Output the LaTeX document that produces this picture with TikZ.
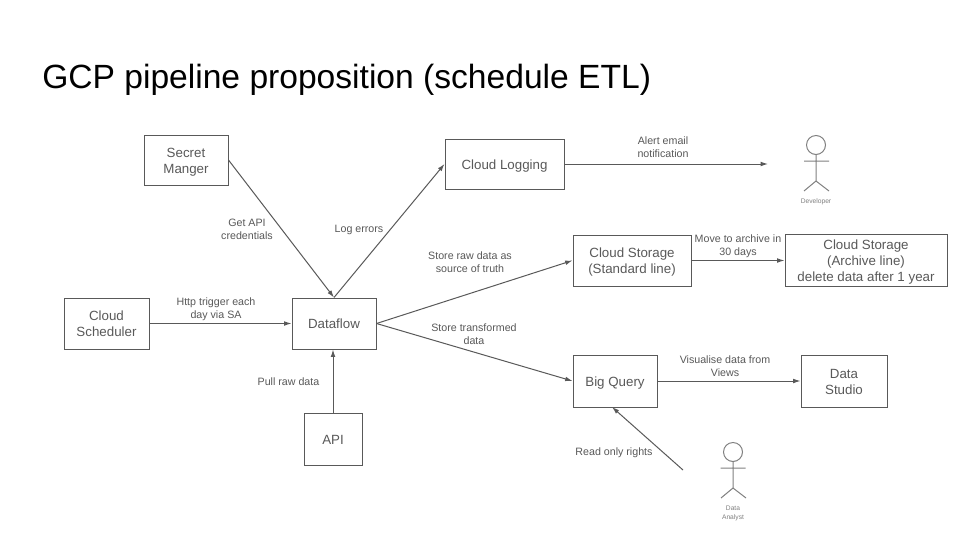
\documentclass[tikz,border=0pt]{standalone}
\usepackage{fontspec}
\setmainfont{Liberation Sans}
\usetikzlibrary{arrows.meta}
\definecolor{ink}{HTML}{595959}
\definecolor{actor}{HTML}{808080}
\tikzset{
  x=0.75pt,y=-0.75pt,
  box/.style={draw=ink,line width=0.75pt,text=ink,align=center,inner sep=0pt,font=\fontsize{10}{12}\selectfont},
  conn/.style={draw=ink,line width=0.75pt,-{Latex[length=5.5pt,width=3.5pt]}},
  lbl/.style={text=ink,align=center,inner sep=0pt,font=\fontsize{8}{9.75}\selectfont},
  fig/.style={draw=actor,line width=0.75pt},
  figlbl/.style={text=actor,align=center,inner sep=0pt,font=\fontsize{5}{7}\selectfont},
}
\newcommand{\boxat}[6]{\node[box,minimum width=#4*0.75pt,minimum height=#5*0.75pt] (#1) at (#2,#3) {\rule{0pt}{11.4pt}#6\strut};}
\newcommand{\lblat}[4]{\node[lbl] (#1) at (#2,#3) {\rule{0pt}{8.3pt}#4\strut};}
\begin{document}
\begin{tikzpicture}
\useasboundingbox (0,0) rectangle (960,540);
\fill[white] (0,0) rectangle (960,540);
\node[anchor=base west,inner sep=0pt,text=black,font=\fontsize{25.2}{30}\selectfont] (title) at (42,88.5) {GCP pipeline proposition (schedule ETL)};
\boxat{secret}{186}{160}{84}{50}{Secret\\Manger}
\boxat{logging}{504.5}{164}{119}{50}{Cloud Logging}
\boxat{scheduler}{106.5}{323.5}{85}{51}{Cloud\\Scheduler}
\boxat{dataflow}{334}{323.5}{84}{51}{Dataflow}
\boxat{api}{333}{439}{58}{52}{API}
\boxat{standard}{632}{260.5}{118}{51}{Cloud Storage\\(Standard line)}
\boxat{archive}{866}{260}{162}{50}{Cloud Storage\\(Archive line)\\delete data after 1 year}
\boxat{bq}{615}{381}{84}{52}{Big Query}
\boxat{studio}{844}{381}{86}{52}{Data\\Studio}
\coordinate (alertend) at (768,164);
\coordinate (readstart) at (683,470);
\coordinate (bqin) at (612,407);
\draw[conn] (secret.east) -- (dataflow.north);
\draw[conn] (dataflow.north) -- (logging.west);
\draw[conn] (logging.east) -- (alertend);
\draw[conn] (scheduler.east) -- (dataflow.west);
\draw[conn] (api.north) -- (dataflow.south -| api.north);
\draw[conn] (dataflow.east) -- (standard.west);
\draw[conn] (dataflow.east) -- (bq.west);
\draw[conn] (standard.east) -- (standard.east -| archive.west);
\draw[conn] (bq.east) -- (studio.west);
\draw[conn] (readstart) -- (bqin);
\lblat{l1}{247}{229.5}{Get API\\credentials}
\lblat{l2}{359}{228.5}{Log errors}
\lblat{l3}{663}{147.5}{Alert email\\notification}
\lblat{l4}{216}{308.5}{Http trigger each\\day via SA}
\lblat{l5}{288.5}{382}{Pull raw data}
\lblat{l6}{470}{262.5}{Store raw data as\\source of truth}
\lblat{l7}{474}{334}{Store transformed\\data}
\lblat{l8}{738}{245}{Move to archive in\\30 days}
\lblat{l9}{725}{366.5}{Visualise data from\\Views}
\lblat{l10}{614}{452}{Read only rights}
% Developer
\draw[fig] (816,145) circle[radius=9.5];
\draw[fig] (816,154.5) -- (816,181) (804,161) -- (829,161) (804,191) -- (816,181) -- (829,191);
\node[figlbl] (dev) at (816,202) {Developer};
% Data Analyst
\draw[fig] (733,452) circle[radius=9.5];
\draw[fig] (733,461.5) -- (733,488) (720.5,468) -- (745.5,468) (721,498) -- (733,488) -- (746,498);
\node[figlbl] (ana) at (733,513.5) {Data\\Analyst};
\end{tikzpicture}
\end{document}
